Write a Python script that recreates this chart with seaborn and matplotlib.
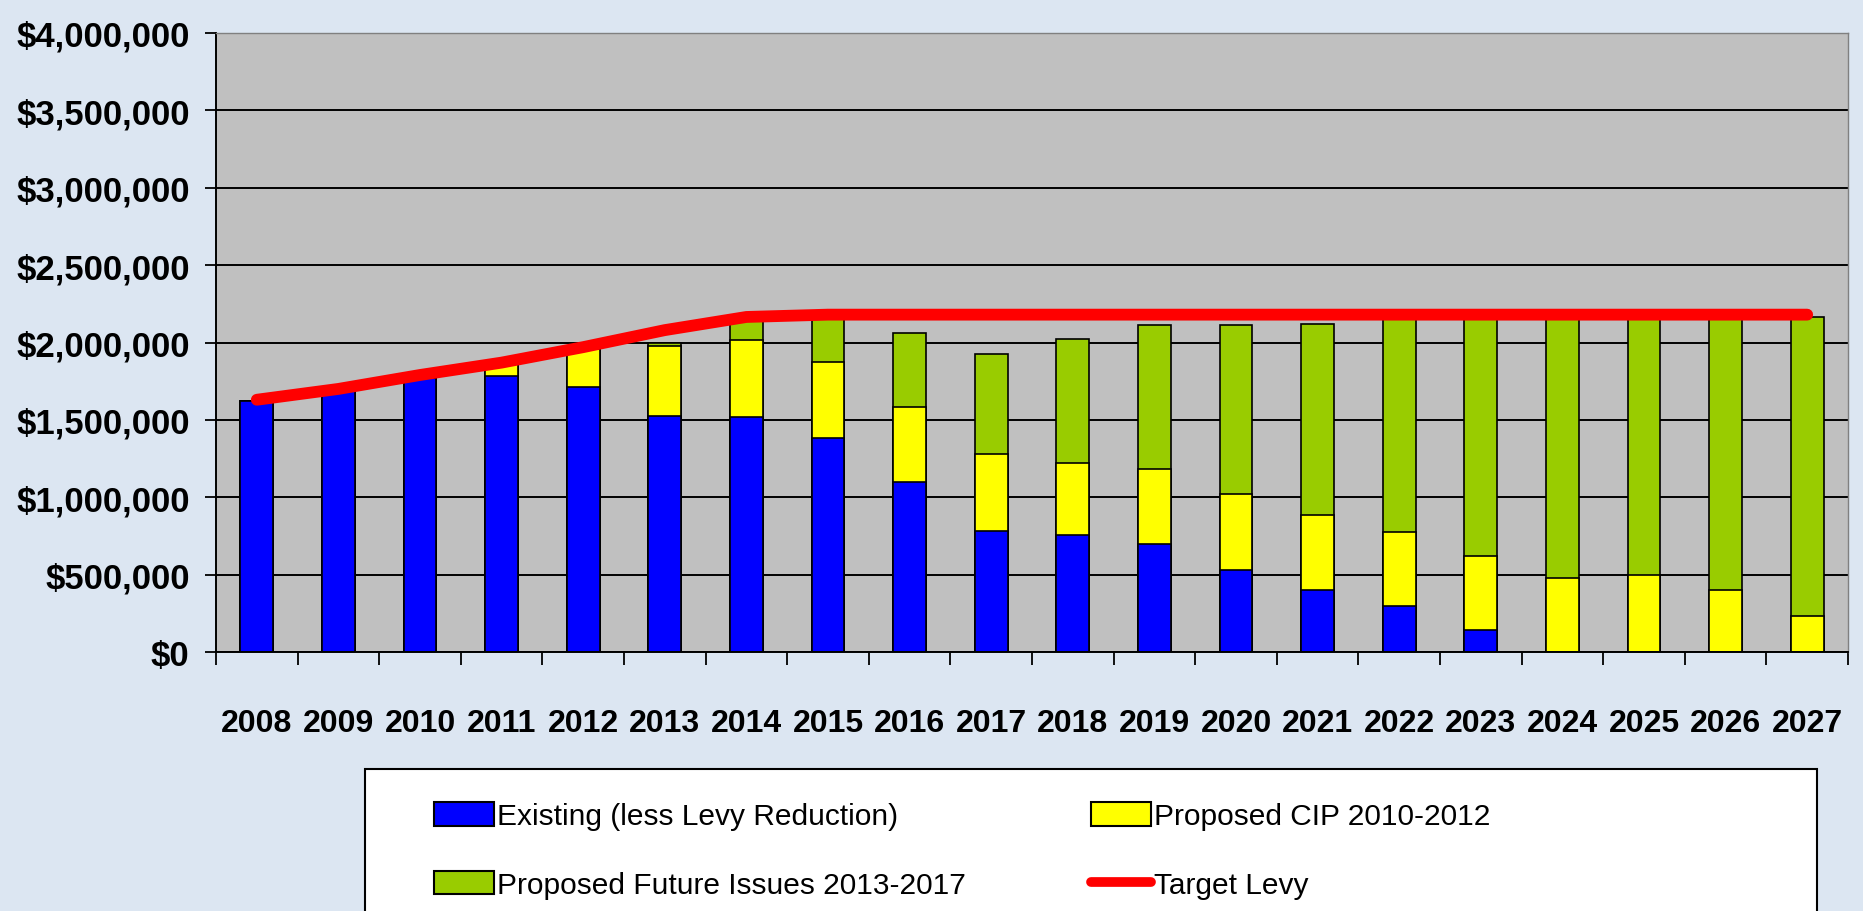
import numpy as np
import pandas as pd
import seaborn as sns
import matplotlib.pyplot as plt
from matplotlib.patches import Patch, Rectangle
from matplotlib.lines import Line2D
from matplotlib.ticker import FuncFormatter, FixedLocator

years = [str(y) for y in range(2008, 2028)]
existing = [1620000, 1690000, 1770000, 1785000, 1710000, 1525000, 1520000, 1380000,
            1100000, 780000, 755000, 695000, 530000, 400000, 300000, 140000,
            0, 0, 0, 0]
proposed_cip = [0, 0, 0, 73000, 250000, 450000, 495000, 495000,
                480000, 500000, 465000, 485000, 490000, 485000, 475000, 480000,
                475000, 495000, 400000, 235000]
future_issues = [0, 0, 0, 0, 0, 20000, 150000, 290000,
                 480000, 645000, 800000, 930000, 1090000, 1235000, 1385000, 1540000,
                 1685000, 1665000, 1760000, 1930000]
target_levy = [1630000, 1700000, 1790000, 1870000, 1970000, 2080000, 2165000, 2180000,
               2180000, 2180000, 2180000, 2180000, 2180000, 2180000, 2180000, 2180000,
               2180000, 2180000, 2180000, 2180000]

labels = ['Existing (less Levy Reduction)', 'Proposed CIP 2010-2012',
          'Proposed Future Issues 2013-2017', 'Target Levy']

BG = '#DCE6F2'
BLUE = '#0000FF'
YELLOW = '#FFFF00'
GREEN = '#99CC00'
RED = '#FF0000'

df = pd.DataFrame({'year': years, 'existing': existing,
                   'cip': proposed_cip, 'future': future_issues})
df['cum_cip'] = df['existing'] + df['cip']
df['cum_all'] = df['cum_cip'] + df['future']

sns.set_style('white')
plt.rcParams['font.family'] = ['Liberation Sans', 'DejaVu Sans']
plt.rcParams['text.color'] = 'black'
plt.rcParams['xtick.color'] = 'black'
plt.rcParams['ytick.color'] = 'black'

fig = plt.figure(figsize=(18.63, 9.12), dpi=100, facecolor=BG)
ax = fig.add_axes([216 / 1863, 1 - 653 / 912, (1848 - 216) / 1863, (653 - 34) / 912])
ax.set_facecolor('#C0C0C0')

bar_kw = dict(width=0.4, saturation=1, edgecolor='black', linewidth=1.2, order=years)
sns.barplot(data=df, x='year', y='cum_all', color=GREEN, ax=ax, **bar_kw)
sns.barplot(data=df, x='year', y='cum_cip', color=YELLOW, ax=ax, **bar_kw)
sns.barplot(data=df, x='year', y='existing', color=BLUE, ax=ax, **bar_kw)

sns.lineplot(x=np.arange(len(years)), y=target_levy, color=RED, linewidth=8.5,
             ax=ax, solid_capstyle='round', zorder=5)

ax.set_ylim(0, 4000000)
ax.set_xlim(-0.5, len(years) - 0.5)
ax.set_yticks(np.arange(0, 4000001, 500000))
ax.yaxis.set_major_formatter(FuncFormatter(lambda v, p: '${:,.0f}'.format(v)))
ax.grid(axis='y', color='black', linewidth=1.4)
ax.set_axisbelow(True)

ax.set_xticks(range(len(years)))
ax.set_xticklabels(years)
ax.xaxis.set_minor_locator(FixedLocator(np.arange(-0.5, len(years), 1.0)))
ax.tick_params(axis='x', which='major', length=0, pad=40, labelsize=23)
ax.tick_params(axis='x', which='minor', length=9, width=1.3, color='black', bottom=True)
ax.tick_params(axis='y', length=8, width=1.3, color='black', pad=11, labelsize=25, left=True)
for lab in ax.get_xticklabels() + ax.get_yticklabels():
    lab.set_fontweight('bold')

ax.set_xlabel('')
ax.set_ylabel('')
for side in ['left', 'bottom']:
    ax.spines[side].set_color('black')
    ax.spines[side].set_linewidth(1.4)
for side in ['top', 'right']:
    ax.spines[side].set_color('#808080')
    ax.spines[side].set_linewidth(1.0)

# legend box
fig.add_artist(Rectangle((365 / 1863, -0.05), (1817 - 365) / 1863, 0.05 + 1 - 770 / 912,
                         transform=fig.transFigure, facecolor='white',
                         edgecolor='black', linewidth=1.5))
handles = [Patch(facecolor=BLUE, edgecolor='black', linewidth=1.5),
           Patch(facecolor=GREEN, edgecolor='black', linewidth=1.5),
           Patch(facecolor=YELLOW, edgecolor='black', linewidth=1.5),
           Line2D([0], [0], color=RED, linewidth=7, solid_capstyle='round')]
fig.legend(handles, [labels[0], labels[2], labels[1], labels[3]],
           loc='upper left', bbox_to_anchor=(434 / 1863, 1 - 803 / 912), ncol=2,
           frameon=False, fontsize=21.5, handlelength=2.0, handleheight=0.85,
           handletextpad=0.1, columnspacing=4.2, labelspacing=1.35,
           borderpad=0, borderaxespad=0)

plt.savefig('out.png', dpi=100, facecolor=BG)
plt.close()
